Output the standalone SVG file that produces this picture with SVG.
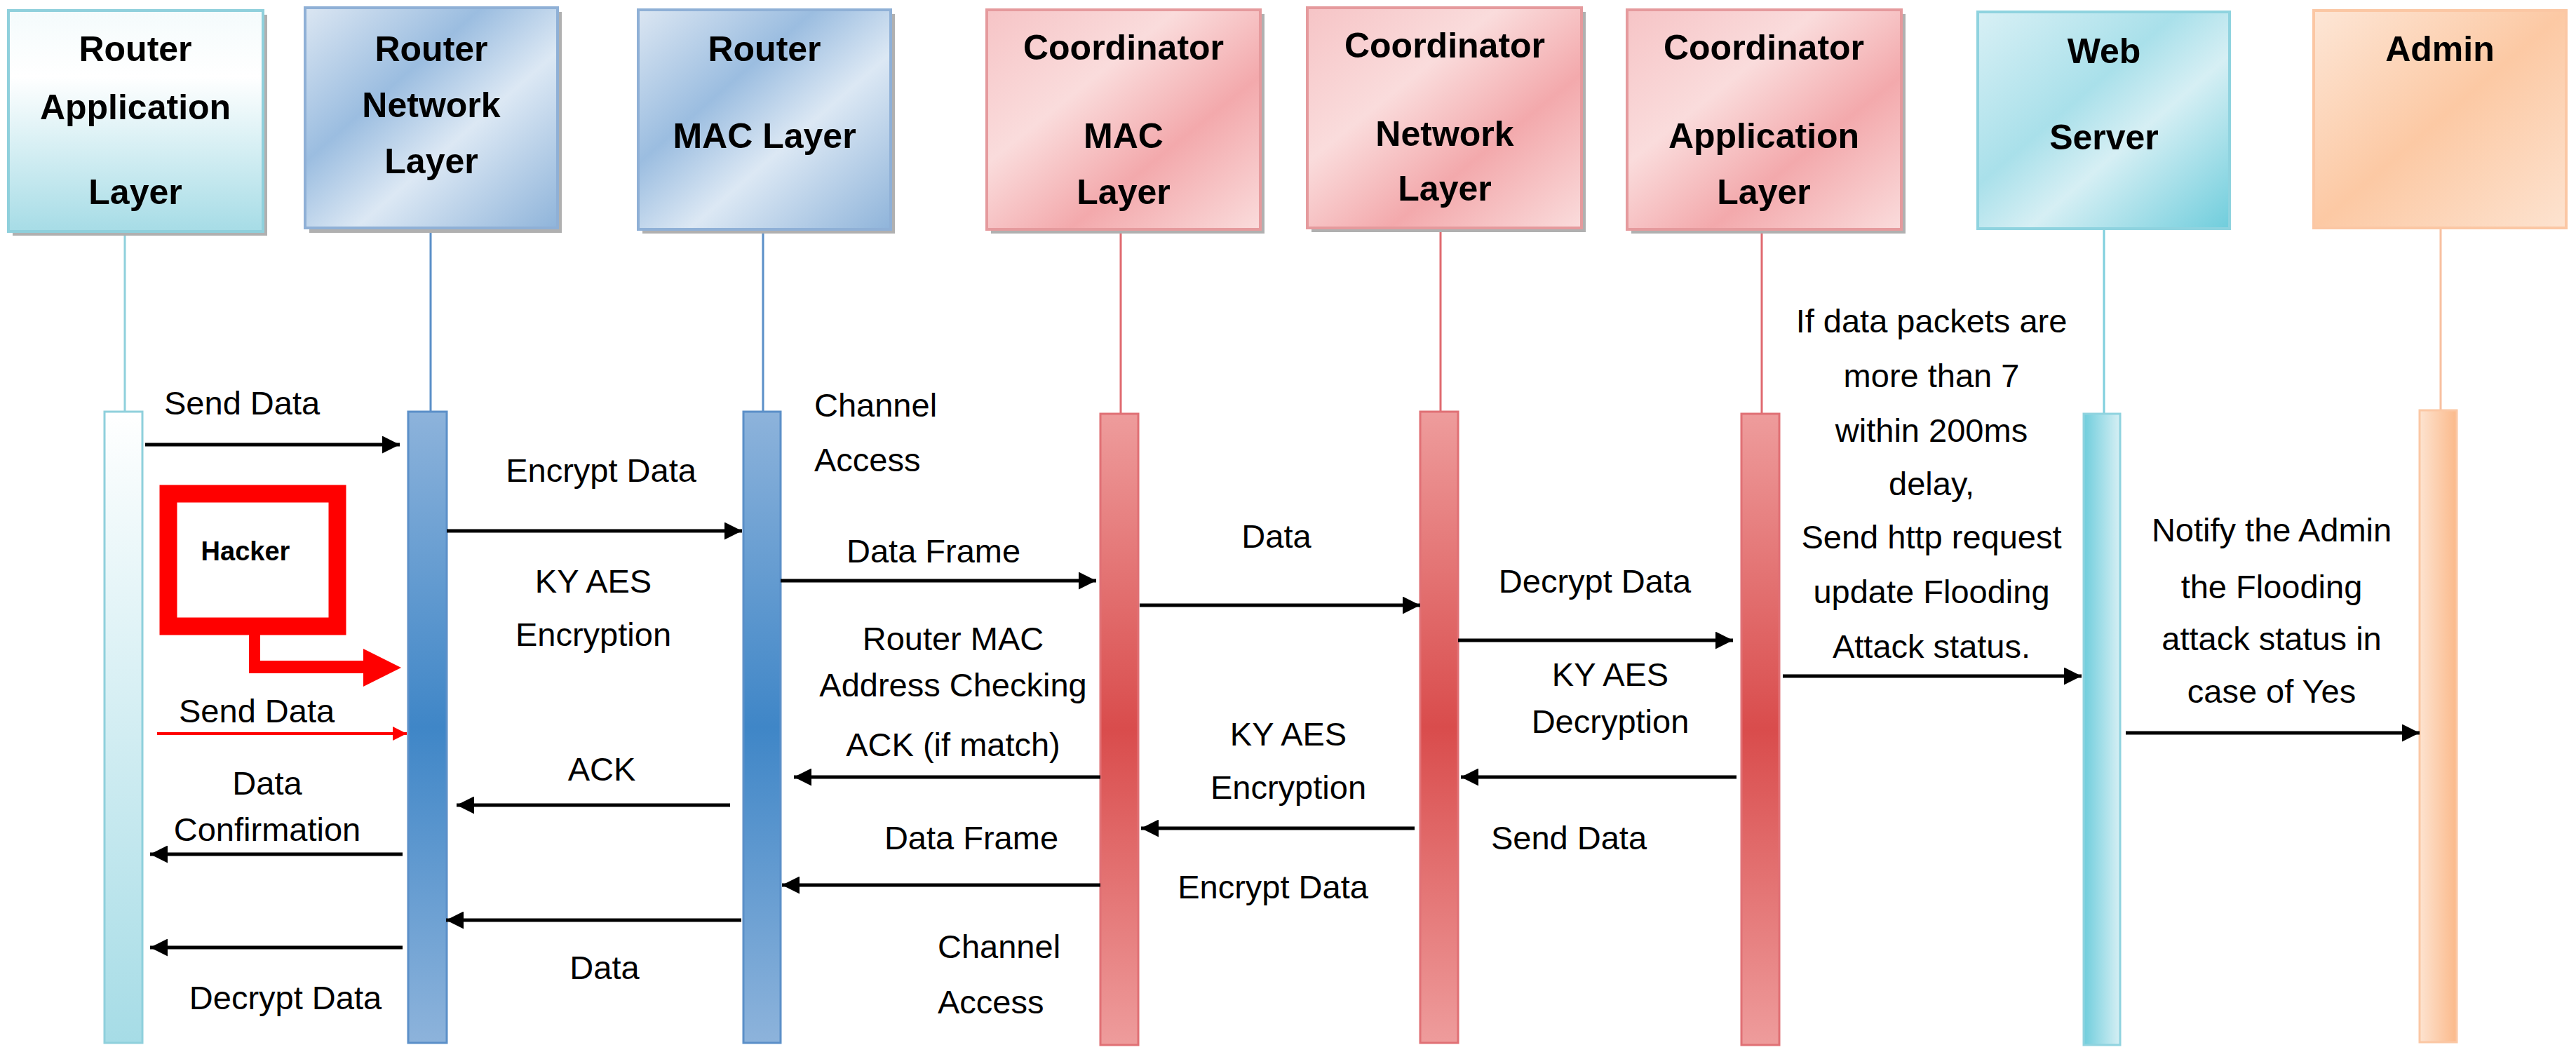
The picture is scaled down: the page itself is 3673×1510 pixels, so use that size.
<svg xmlns="http://www.w3.org/2000/svg" width="3673" height="1510" viewBox="0 0 3673 1510">
<style>
.h{font-family:"Liberation Sans",Arial,sans-serif;font-weight:bold;font-size:50px;text-anchor:middle;fill:#000}
.t{font-family:"Liberation Sans",Arial,sans-serif;font-size:47px;fill:#000}
.c{text-anchor:middle}
.sh{fill:#b0b0b0}
.ar{stroke:#000;stroke-width:5;fill:none;marker-end:url(#ah)}
</style>
<defs>
<marker id="ah" viewBox="0 0 10 10" refX="10" refY="5" markerWidth="5" markerHeight="5" orient="auto" markerUnits="strokeWidth"><path d="M0,0L10,5L0,10z" fill="#000"/></marker>
<marker id="ahr" viewBox="0 0 10 10" refX="10" refY="5" markerWidth="5" markerHeight="5" orient="auto" markerUnits="strokeWidth"><path d="M0,0L10,5L0,10z" fill="#f00"/></marker>
<linearGradient id="gApp" x1="0" y1="0" x2="0" y2="1"><stop offset="0" stop-color="#f4fbfc"/><stop offset="0.3" stop-color="#ffffff"/><stop offset="1" stop-color="#a6dce6"/></linearGradient>
<linearGradient id="gBlue" x1="0" y1="0" x2="1" y2="1"><stop offset="0" stop-color="#dbe6f2"/><stop offset="0.35" stop-color="#9bbde0"/><stop offset="0.6" stop-color="#dce8f4"/><stop offset="1" stop-color="#8fb4da"/></linearGradient>
<linearGradient id="gPink" x1="0" y1="0" x2="1" y2="1"><stop offset="0" stop-color="#f6c4c6"/><stop offset="0.35" stop-color="#fadcdc"/><stop offset="0.65" stop-color="#f3a9ac"/><stop offset="1" stop-color="#fadcdc"/></linearGradient>
<linearGradient id="gWeb" x1="0" y1="0" x2="1" y2="1"><stop offset="0" stop-color="#d8f0f5"/><stop offset="0.4" stop-color="#a9e0ea"/><stop offset="0.6" stop-color="#d6eff4"/><stop offset="1" stop-color="#6fcddc"/></linearGradient>
<linearGradient id="gAdm" x1="0" y1="0" x2="1" y2="1"><stop offset="0" stop-color="#fde6d6"/><stop offset="0.5" stop-color="#fcc9a4"/><stop offset="1" stop-color="#fde3d0"/></linearGradient>
<linearGradient id="bApp" x1="0" y1="0" x2="0" y2="1"><stop offset="0" stop-color="#ffffff"/><stop offset="1" stop-color="#a6dce6"/></linearGradient>
<linearGradient id="bBlue" x1="0" y1="0" x2="0" y2="1"><stop offset="0" stop-color="#8db3db"/><stop offset="0.5" stop-color="#3f86c7"/><stop offset="1" stop-color="#8db3db"/></linearGradient>
<linearGradient id="bPink" x1="0" y1="0" x2="0" y2="1"><stop offset="0" stop-color="#ee9c9c"/><stop offset="0.5" stop-color="#d94c4c"/><stop offset="1" stop-color="#ee9c9c"/></linearGradient>
<linearGradient id="bWeb" x1="0" y1="0" x2="1" y2="0"><stop offset="0" stop-color="#6fcddc"/><stop offset="1" stop-color="#d6eff4"/></linearGradient>
<linearGradient id="bAdm" x1="0" y1="0" x2="1" y2="0"><stop offset="0" stop-color="#fde3d0"/><stop offset="1" stop-color="#fbb98a"/></linearGradient>
</defs>
<rect width="3673" height="1510" fill="#fff"/>

<g id="lifelines">
<line x1="178" y1="330" x2="178" y2="590" stroke="#8fd0dc" stroke-width="3"/>
<line x1="614" y1="325" x2="614" y2="590" stroke="#5b8fc8" stroke-width="3"/>
<line x1="1088" y1="327" x2="1088" y2="590" stroke="#5b8fc8" stroke-width="3"/>
<line x1="1598" y1="327" x2="1598" y2="590" stroke="#e06a70" stroke-width="3"/>
<line x1="2054" y1="325" x2="2054" y2="590" stroke="#e06a70" stroke-width="3"/>
<line x1="2512" y1="327" x2="2512" y2="590" stroke="#e06a70" stroke-width="3"/>
<line x1="3000" y1="326" x2="3000" y2="590" stroke="#7fcfdd" stroke-width="3"/>
<line x1="3480" y1="325" x2="3480" y2="585" stroke="#f8c0a0" stroke-width="3"/>
</g>

<g id="n-rapp"><rect class="sh" x="18" y="21" width="363" height="315"/><rect x="12" y="15" width="363" height="315" fill="url(#gApp)" stroke="#8fd0dc" stroke-width="4"/>
<text class="h" x="193" y="87">Router</text><text class="h" x="193" y="170">Application</text><text class="h" x="193" y="291">Layer</text></g>
<g id="n-rnet"><rect class="sh" x="441" y="17" width="360" height="315"/><rect x="435" y="11" width="360" height="314" fill="url(#gBlue)" stroke="#8fb0d6" stroke-width="4"/>
<text class="h" x="615" y="87">Router</text><text class="h" x="615" y="167">Network</text><text class="h" x="615" y="247">Layer</text></g>
<g id="n-rmac"><rect class="sh" x="916" y="20" width="360" height="313"/><rect x="910" y="14" width="360" height="313" fill="url(#gBlue)" stroke="#8fb0d6" stroke-width="4"/>
<text class="h" x="1090" y="87">Router</text><text class="h" x="1090" y="211">MAC Layer</text></g>
<g id="n-cmac"><rect class="sh" x="1413" y="20" width="390" height="313"/><rect x="1407" y="14" width="390" height="313" fill="url(#gPink)" stroke="#e59a9d" stroke-width="4"/>
<text class="h" x="1602" y="85">Coordinator</text><text class="h" x="1602" y="211">MAC</text><text class="h" x="1602" y="291">Layer</text></g>
<g id="n-cnet"><rect class="sh" x="1870" y="17" width="391" height="314"/><rect x="1864" y="11" width="391" height="314" fill="url(#gPink)" stroke="#e59a9d" stroke-width="4"/>
<text class="h" x="2060" y="82">Coordinator</text><text class="h" x="2060" y="208">Network</text><text class="h" x="2060" y="286">Layer</text></g>
<g id="n-capp"><rect class="sh" x="2326" y="20" width="391" height="313"/><rect x="2320" y="14" width="391" height="313" fill="url(#gPink)" stroke="#e59a9d" stroke-width="4"/>
<text class="h" x="2515" y="85">Coordinator</text><text class="h" x="2515" y="211">Application</text><text class="h" x="2515" y="291">Layer</text></g>
<g id="n-web"><rect x="2820" y="17" width="359" height="309" fill="url(#gWeb)" stroke="#8fd3df" stroke-width="4"/>
<text class="h" x="3000" y="90">Web</text><text class="h" x="3000" y="213">Server</text></g>
<g id="n-admin"><rect x="3299" y="15" width="360" height="310" fill="url(#gAdm)" stroke="#fbc7a4" stroke-width="4"/>
<text class="h" x="3479" y="87">Admin</text></g>

<g id="bars">
<rect x="149" y="587" width="54" height="900" fill="url(#bApp)" stroke="#8fd0dc" stroke-width="3"/>
<rect x="582" y="587" width="55" height="900" fill="url(#bBlue)" stroke="#5b8fc8" stroke-width="3"/>
<rect x="1060" y="587" width="53" height="900" fill="url(#bBlue)" stroke="#5b8fc8" stroke-width="3"/>
<rect x="1569" y="590" width="54" height="900" fill="url(#bPink)" stroke="#e07075" stroke-width="3"/>
<rect x="2025" y="587" width="54" height="900" fill="url(#bPink)" stroke="#e07075" stroke-width="3"/>
<rect x="2483" y="590" width="54" height="900" fill="url(#bPink)" stroke="#e07075" stroke-width="3"/>
<rect x="2971" y="590" width="52" height="900" fill="url(#bWeb)" stroke="#8fd3df" stroke-width="3"/>
<rect x="3450" y="585" width="53" height="901" fill="url(#bAdm)" stroke="#fbc7a4" stroke-width="3"/>
</g>

<g id="hacker">
<rect x="240" y="704" width="241" height="189" fill="#fff" stroke="#f00" stroke-width="25"/>
<polygon points="355,893 371,893 371,942 518,942 518,925 572,952 518,979 518,960 355,960" fill="#f00"/>
<text x="350" y="799" font-family="Liberation Sans,Arial,sans-serif" font-weight="bold" font-size="38" text-anchor="middle">Hacker</text>
</g>

<g id="connectors">
<line class="ar" x1="207" y1="634" x2="570" y2="634"/>
<line class="ar" x1="637" y1="757" x2="1058" y2="757"/>
<line x1="224" y1="1046" x2="580" y2="1046" stroke="#f00" stroke-width="4" marker-end="url(#ahr)"/>
<line class="ar" x1="1113" y1="828" x2="1563" y2="828"/>
<line class="ar" x1="1625" y1="863" x2="2025" y2="863"/>
<line class="ar" x1="2079" y1="913" x2="2471" y2="913"/>
<line class="ar" x1="2542" y1="964" x2="2968" y2="964"/>
<line class="ar" x1="3031" y1="1045" x2="3450" y2="1045"/>
<line class="ar" x1="1041" y1="1148" x2="651" y2="1148"/>
<line class="ar" x1="574" y1="1218" x2="214" y2="1218"/>
<line class="ar" x1="1569" y1="1108" x2="1132" y2="1108"/>
<line class="ar" x1="2476" y1="1108" x2="2083" y2="1108"/>
<line class="ar" x1="2017" y1="1181" x2="1627" y2="1181"/>
<line class="ar" x1="1569" y1="1262" x2="1115" y2="1262"/>
<line class="ar" x1="1057" y1="1312" x2="636" y2="1312"/>
<line class="ar" x1="574" y1="1351" x2="214" y2="1351"/>
</g>

<g id="labels">
<text class="t" x="234" y="591">Send Data</text>
<text class="t c" x="857" y="687">Encrypt Data</text>
<text class="t c" x="846" y="845">KY AES</text>
<text class="t c" x="846" y="921">Encryption</text>
<text class="t" x="255" y="1030">Send Data</text>
<text class="t c" x="381" y="1133">Data</text>
<text class="t c" x="381" y="1199">Confirmation</text>
<text class="t c" x="858" y="1113">ACK</text>
<text class="t c" x="862" y="1396">Data</text>
<text class="t c" x="407" y="1439">Decrypt Data</text>
<text class="t" x="1161" y="594">Channel</text>
<text class="t" x="1161" y="672">Access</text>
<text class="t" x="1207" y="802">Data Frame</text>
<text class="t c" x="1359" y="927">Router MAC</text>
<text class="t c" x="1359" y="993">Address Checking</text>
<text class="t c" x="1359" y="1078">ACK (if match)</text>
<text class="t c" x="1385" y="1211">Data Frame</text>
<text class="t" x="1337" y="1366">Channel</text>
<text class="t" x="1337" y="1445">Access</text>
<text class="t c" x="1820" y="781">Data</text>
<text class="t c" x="1837" y="1063">KY AES</text>
<text class="t c" x="1837" y="1139">Encryption</text>
<text class="t c" x="1815" y="1281">Encrypt Data</text>
<text class="t c" x="2274" y="845">Decrypt Data</text>
<text class="t c" x="2296" y="978">KY AES</text>
<text class="t c" x="2296" y="1045">Decryption</text>
<text class="t c" x="2237" y="1211">Send Data</text>
<text class="t c" x="2754" y="474">If data packets are</text>
<text class="t c" x="2754" y="552">more than 7</text>
<text class="t c" x="2754" y="630">within 200ms</text>
<text class="t c" x="2754" y="706">delay,</text>
<text class="t c" x="2754" y="782">Send http request</text>
<text class="t c" x="2754" y="860">update Flooding</text>
<text class="t c" x="2754" y="938">Attack status.</text>
<text class="t c" x="3239" y="772">Notify the Admin</text>
<text class="t c" x="3239" y="853">the Flooding</text>
<text class="t c" x="3239" y="927">attack status in</text>
<text class="t c" x="3239" y="1002">case of Yes</text>
</g>
</svg>
